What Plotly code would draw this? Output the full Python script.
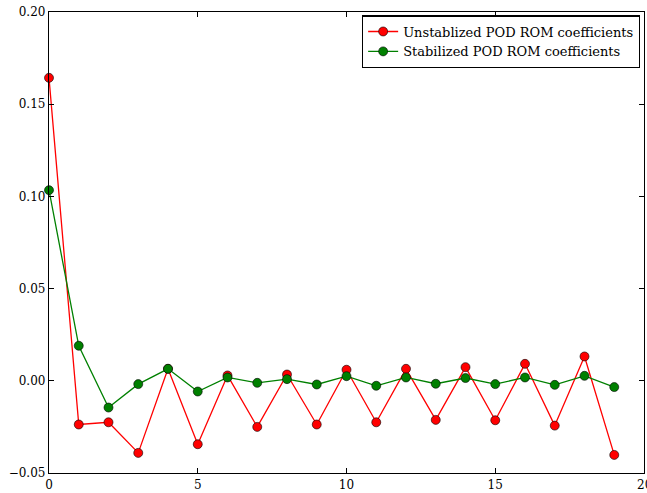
import plotly.graph_objects as go

# POD mode index and ROM coefficients
modes = list(range(20))
unstabilized = [0.1643, -0.0237, -0.0225, -0.0391, 0.0065, -0.0344, 0.0029, -0.0250,
                0.0034, -0.0237, 0.0060, -0.0225, 0.0065, -0.0212, 0.0074, -0.0214,
                0.0092, -0.0243, 0.0132, -0.0402]
stabilized = [0.1034, 0.0190, -0.0145, -0.0018, 0.0065, -0.0058, 0.0018, -0.0011,
              0.0009, -0.0020, 0.0025, -0.0027, 0.0018, -0.0016, 0.0015, -0.0018,
              0.0018, -0.0022, 0.0027, -0.0034]
x_ticks = [0, 5, 10, 15, 20]
y_ticks = [-0.05, 0.0, 0.05, 0.10, 0.15, 0.20]

FONT = "DejaVu Serif"

fig = go.Figure()
fig.add_trace(go.Scatter(
    x=modes, y=unstabilized, mode="lines+markers",
    name="Unstablized POD ROM coefficients",
    line=dict(color="#ff0000", width=1.3),
    marker=dict(color="#ff0000", size=9, line=dict(color="#000000", width=0.6)),
    cliponaxis=False,
))
fig.add_trace(go.Scatter(
    x=modes, y=stabilized, mode="lines+markers",
    name="Stabilized POD ROM coefficients",
    line=dict(color="#008000", width=1.3),
    marker=dict(color="#008000", size=9, line=dict(color="#000000", width=0.6)),
    cliponaxis=False,
))

axis_common = dict(
    showgrid=False, zeroline=False, showline=True, linecolor="#000000", linewidth=1.3,
    mirror="ticks", ticks="inside", ticklen=5, tickwidth=0.8, tickcolor="#000000",
    tickfont=dict(family=FONT, size=12, color="#000000"), automargin=False,
)
fig.update_xaxes(range=[0, 20], tickvals=x_ticks, **axis_common)
fig.update_yaxes(range=[-0.05, 0.20], tickvals=y_ticks, tickformat=".2f", **axis_common)

# the last x tick label sits on the figure edge, so place it explicitly
fig.add_annotation(
    x=x_ticks[-1], y=0, xref="x", yref="paper", yanchor="top", yshift=-3,
    text=str(x_ticks[-1]), showarrow=False,
    font=dict(family=FONT, size=12, color="#000000"),
)

fig.update_layout(
    width=647, height=493,
    margin=dict(l=49, r=3, t=12, b=20),
    paper_bgcolor="#ffffff", plot_bgcolor="#ffffff",
    font=dict(family=FONT, size=13, color="#000000"),
    showlegend=True,
    legend=dict(
        x=0.993, y=0.993, xanchor="right", yanchor="top",
        bgcolor="#ffffff", bordercolor="#000000", borderwidth=1.3,
        font=dict(family=FONT, size=13, color="#000000"),
        tracegroupgap=0, itemwidth=30,
    ),
)

fig.write_html("out.html")
